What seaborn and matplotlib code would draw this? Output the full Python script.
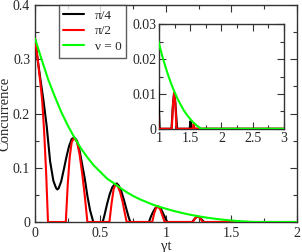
import numpy as np
import pandas as pd
import seaborn as sns
import matplotlib.pyplot as plt
from matplotlib.ticker import MultipleLocator

# values (gamma*t, concurrence)
t_quarter = [0.0, 0.02, 0.04, 0.064, 0.089, 0.115, 0.14, 0.16, 0.17, 0.18, 0.20, 0.22, 0.24, 0.26,
             0.28, 0.30, 0.32, 0.34, 0.36, 0.38, 0.40, 0.42, 0.445, 0.517, 0.53, 0.55, 0.57, 0.59,
             0.61, 0.625, 0.64, 0.66, 0.68, 0.70, 0.715, 0.728, 0.87, 0.885, 0.90, 0.92, 0.94,
             0.96, 0.98, 1.00, 1.01, 1.20, 1.22, 1.24, 1.26, 1.29, 1.49, 1.505, 1.52, 3.0]
c_quarter = [0.338, 0.300, 0.265, 0.225, 0.177, 0.112, 0.076, 0.063, 0.060, 0.062, 0.075, 0.097,
             0.120, 0.140, 0.153, 0.156, 0.150, 0.132, 0.106, 0.080, 0.048, 0.022, 0.0, 0.0,
             0.012, 0.033, 0.051, 0.064, 0.070, 0.071, 0.067, 0.056, 0.040, 0.022, 0.009, 0.0,
             0.0, 0.010, 0.018, 0.026, 0.029, 0.025, 0.015, 0.005, 0.0, 0.0, 0.006, 0.0102,
             0.008, 0.0, 0.0, 0.0022, 0.0, 0.0]

t_half = [0.0, 0.02, 0.04, 0.055, 0.07, 0.085, 0.099, 0.235, 0.25, 0.265, 0.28, 0.298, 0.32,
          0.34, 0.36, 0.38, 0.40, 0.568, 0.585, 0.60, 0.615, 0.63, 0.65, 0.67, 0.685, 0.70,
          0.895, 0.91, 0.925, 0.94, 0.955, 0.97, 0.99, 1.205, 1.225, 1.245, 1.265, 1.28,
          1.54, 1.555, 1.57, 3.0]
c_half = [0.338, 0.300, 0.258, 0.223, 0.165, 0.090, 0.0, 0.0, 0.070, 0.120, 0.147, 0.155,
          0.148, 0.125, 0.090, 0.048, 0.0, 0.0, 0.035, 0.060, 0.069, 0.067, 0.055, 0.036,
          0.017, 0.0, 0.0, 0.016, 0.026, 0.028, 0.024, 0.014, 0.0, 0.0, 0.0075, 0.0104,
          0.006, 0.0, 0.0, 0.0015, 0.0, 0.0]

t_nu0 = [0.0, 0.05, 0.10, 0.15, 0.20, 0.25, 0.30, 0.35, 0.40, 0.45, 0.50, 0.55, 0.60, 0.65,
         0.70, 0.75, 0.80, 0.85, 0.90, 0.95, 1.00, 1.05, 1.10, 1.15, 1.20, 1.25, 1.30, 1.35,
         1.40, 1.45, 1.50, 1.55, 1.60, 1.65, 1.68, 3.0]
c_nu0 = [0.338, 0.300, 0.263, 0.232, 0.203, 0.178, 0.156, 0.136, 0.119, 0.104, 0.092, 0.080,
         0.072, 0.063, 0.055, 0.048, 0.042, 0.037, 0.032, 0.028, 0.0245, 0.021, 0.018, 0.0152,
         0.0127, 0.0105, 0.0085, 0.0068, 0.0052, 0.0039, 0.0028, 0.0018, 0.0010, 0.0003, 0.0, 0.0]

series = [(t_quarter, c_quarter, 'black', 'π/4'),
          (t_half, c_half, '#ff0000', 'π/2'),
          (t_nu0, c_nu0, '#00ff00', 'ν = 0')]

sns.set_style("ticks")
plt.rcParams['font.family'] = ['Liberation Serif', 'DejaVu Serif']
plt.rcParams['font.size'] = 10
plt.rcParams['xtick.direction'] = 'in'
plt.rcParams['ytick.direction'] = 'in'

fig = plt.figure(figsize=(3.02, 2.52), dpi=100)
ax = fig.add_axes([0.116, 0.119, 0.867, 0.861])
ins = fig.add_axes([0.5265, 0.489, 0.4135, 0.4146])

for a in (ax, ins):
    for t, c, col, lab in series:
        sns.lineplot(x=t, y=c, ax=a, color=col, lw=1.5, label=lab, estimator=None,
                     sort=False, zorder=3, legend=False)
    a.tick_params(which='both', top=True, right=True, labelsize=10, width=0.8, color='#333333')
    a.tick_params(which='major', length=5)
    a.tick_params(which='minor', length=3)
    for s in a.spines.values():
        s.set_linewidth(1.0)
        s.set_color('#333333')

ax.set_xlim(0, 2)
ax.set_ylim(0, 0.4)
ax.xaxis.set_minor_locator(MultipleLocator(0.25))
ax.yaxis.set_minor_locator(MultipleLocator(0.05))
ax.set_xticks([0, 0.5, 1, 1.5, 2], ['0', '0.5', '1', '1.5', '2'])
ax.set_yticks([0, 0.1, 0.2, 0.3, 0.4], ['0', '0.1', '0.2', '0.3', '0.4'])
ax.set_xlabel('γt', fontsize=10.5, labelpad=0)
ax.set_ylabel('Concurrence', fontsize=10.5, labelpad=1)

ins.set_xlim(1, 3)
ins.set_ylim(0, 0.03)
ins.xaxis.set_minor_locator(MultipleLocator(0.25))
ins.yaxis.set_minor_locator(MultipleLocator(0.005))
ins.set_xticks([1, 1.5, 2, 2.5, 3], ['1', '1.5', '2', '2.5', '3'])
ins.set_yticks([0, 0.01, 0.02, 0.03], ['0', '0.01', '0.02', '0.03'])
ins.tick_params(pad=2)
ins.set_xlabel('')
ins.set_ylabel('')

handles = [plt.Line2D([], [], color=col, lw=1.5) for _, _, col, _ in series]
leg = ax.legend(handles, [s[3] for s in series], loc='upper left', bbox_to_anchor=(0.09, 1.0),
                borderaxespad=0, frameon=True, fancybox=False, fontsize=9.5, handlelength=1.6,
                handletextpad=0.8, labelspacing=0.25, borderpad=0.35)
leg.get_frame().set_edgecolor('#333333')
leg.get_frame().set_linewidth(1.0)

fig.savefig('out.png', dpi=100)
